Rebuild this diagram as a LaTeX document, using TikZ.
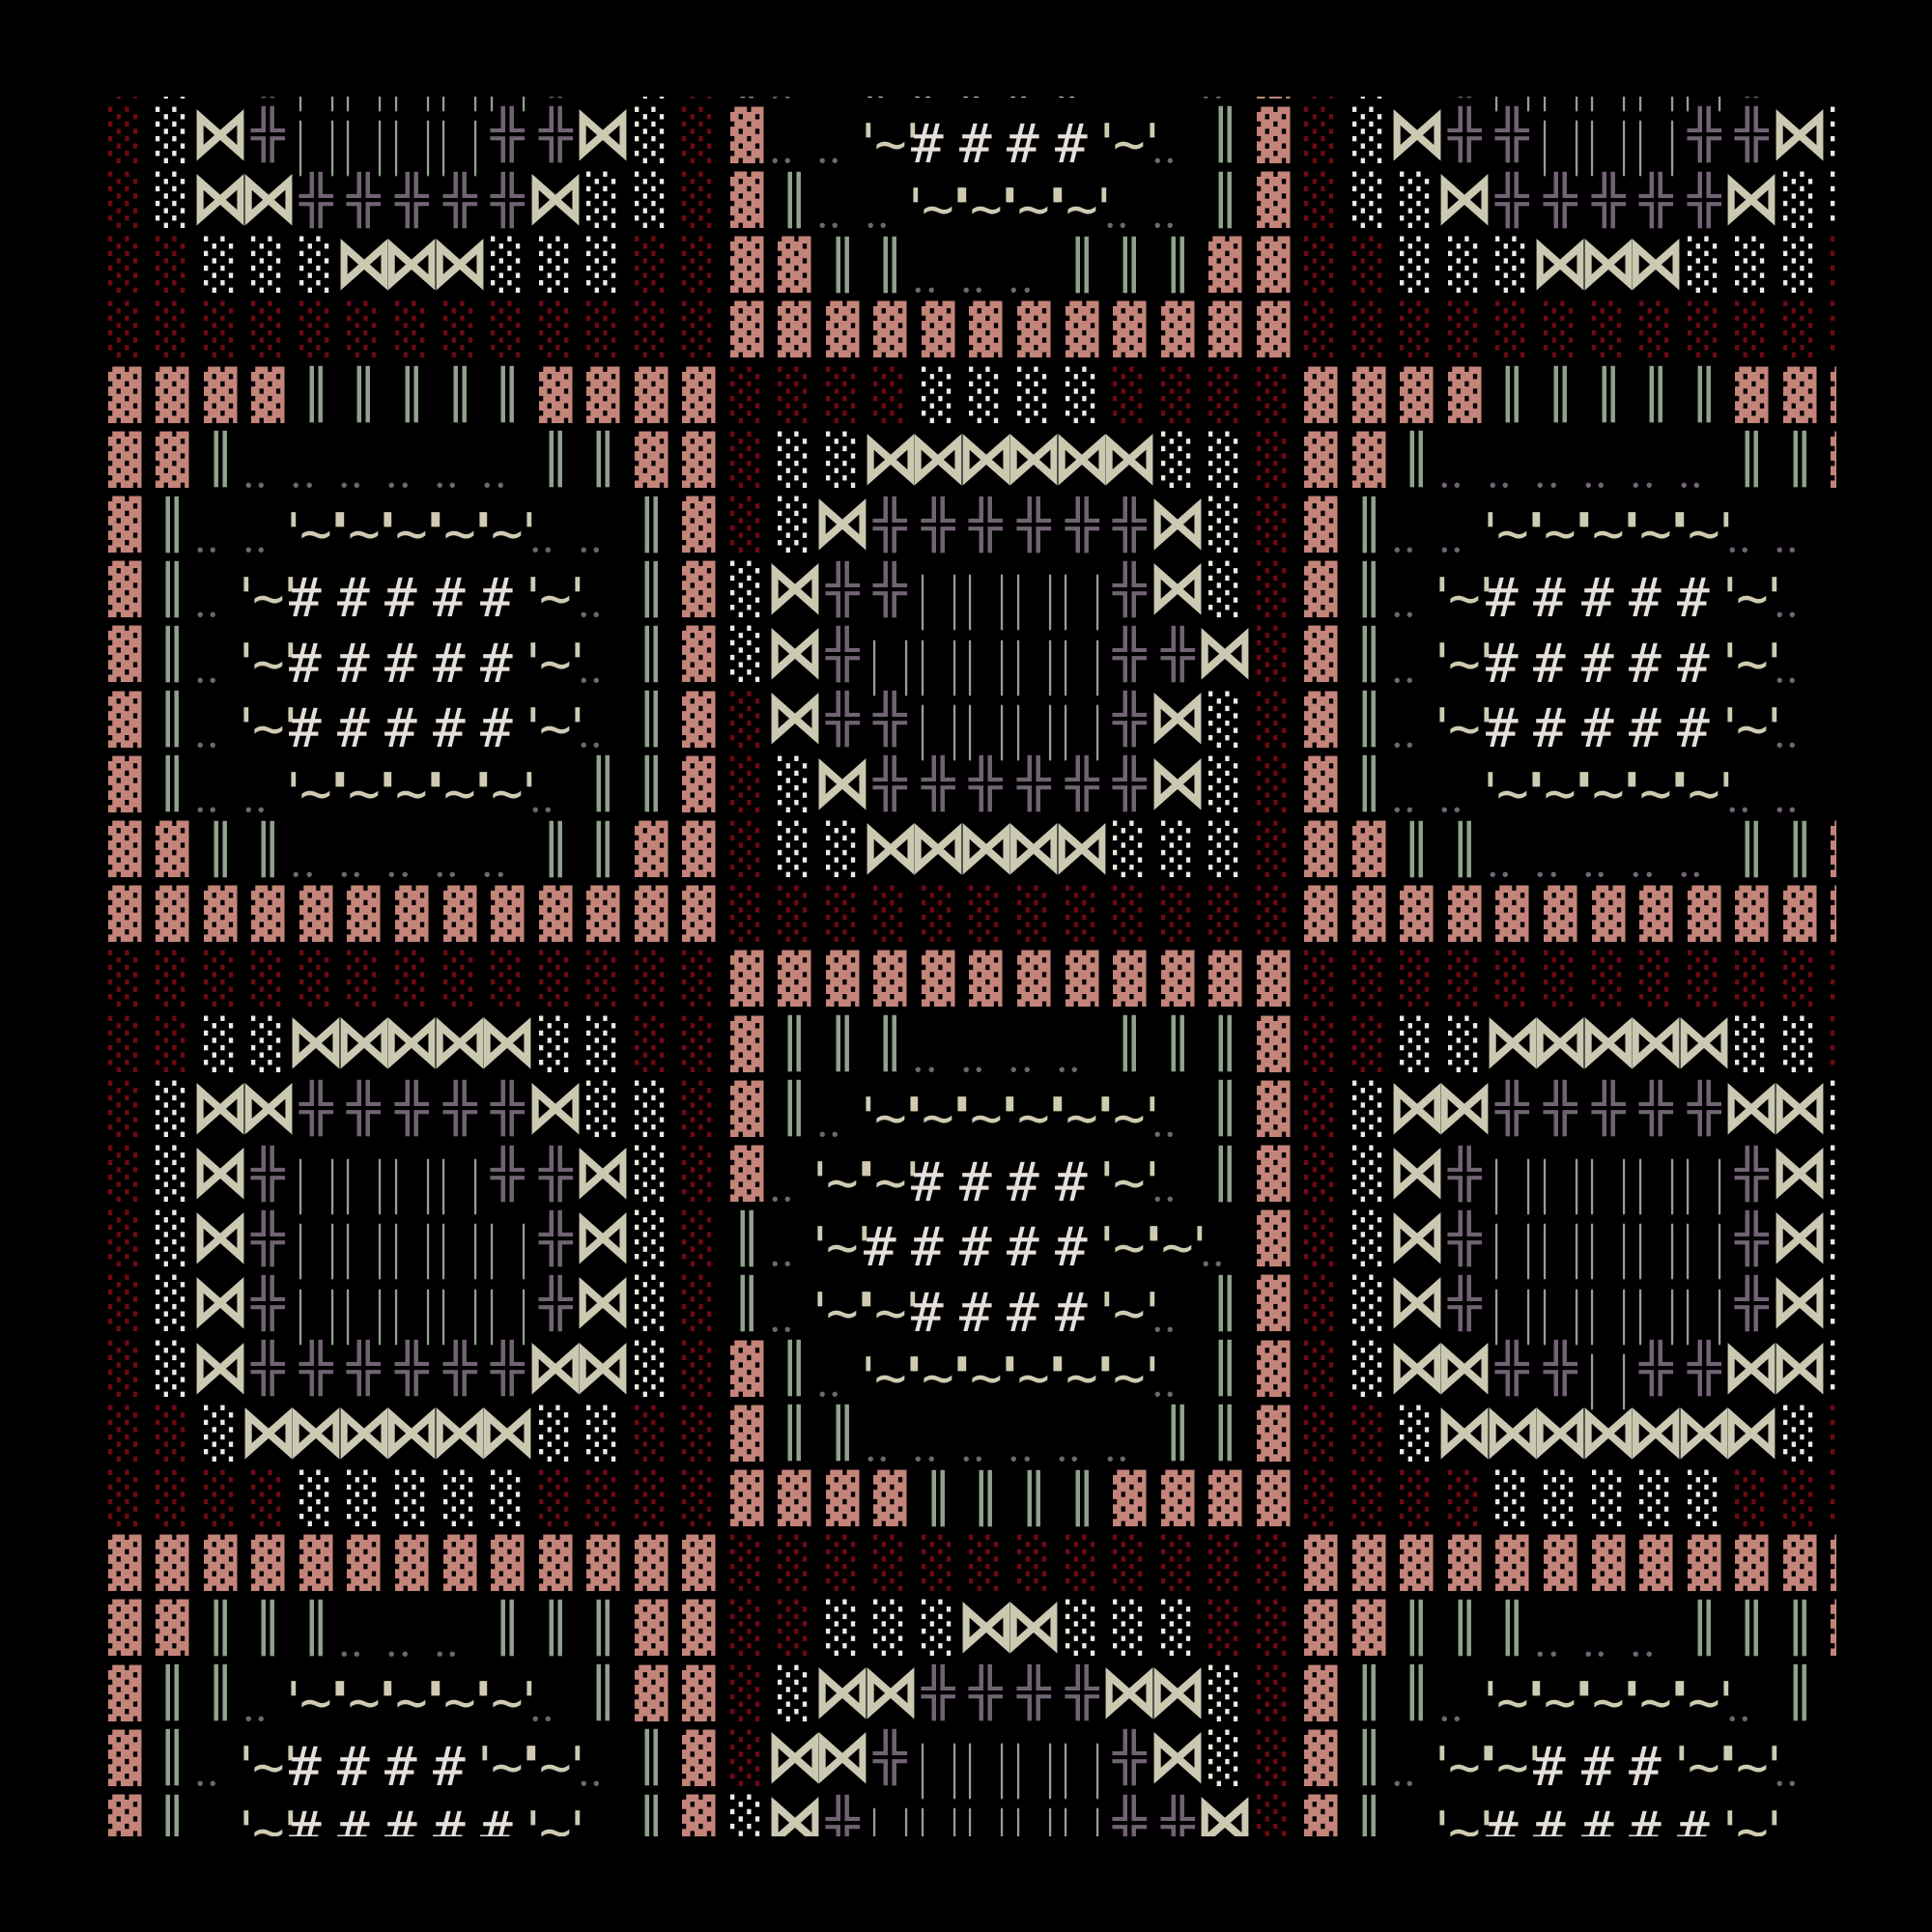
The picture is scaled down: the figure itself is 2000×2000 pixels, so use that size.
\documentclass[tikz,border=0pt]{standalone}
\usepackage{graphicx}
\font\blockfont="DejaVu Sans Mono" at 10pt
\font\linefont="DejaVu Sans Mono/B" at 10pt
\font\tiefont="DejaVu Sans/B" at 10pt
\font\markfont="DejaVu Sans Mono" at 56pt
\definecolor{shadepink}{HTML}{C4847A}
\definecolor{shadered}{HTML}{6E0A12}
\definecolor{shadecream}{HTML}{EEEAE0}
\definecolor{crossmauve}{HTML}{716373}
\definecolor{barsage}{HTML}{8FA38C}
\definecolor{tiecream}{HTML}{CBC9B2}
\definecolor{hashwhite}{HTML}{E4DFDA}
\definecolor{tildecream}{HTML}{CFCBB3}
\definecolor{dotmauve}{HTML}{736477}
\tikzset{
  glyph/.style={inner sep=0pt,outer sep=0pt},
  baseglyph/.style={glyph,anchor=base},
}
\newcommand{\cellpos}[2]{%
  \pgfmathsetmacro{\cx}{129.5+49.54*#1}%
  \pgfmathsetmacro{\cy}{72.8+67.2*#2}}
\newcommand{\blockglyph}[5]{%
  \cellpos{#1}{#2}%
  \node[glyph,text=#3] (g-#2-#1) at (\cx,\cy) {\resizebox*{34.5pt}{58.5pt}{#4#5}};}
\newcommand{\cellP}[2]{\blockglyph{#1}{#2}{shadepink}{\blockfont}{▓}}
\newcommand{\cellD}[2]{\blockglyph{#1}{#2}{shadered}{\blockfont}{░}}
\newcommand{\cellW}[2]{\blockglyph{#1}{#2}{shadecream}{\blockfont}{░}}
\newcommand{\cellX}[2]{\blockglyph{#1}{#2}{crossmauve}{\linefont}{╬}}
\newcommand{\cellG}[2]{\blockglyph{#1}{#2}{barsage}{\linefont}{║}}
\newcommand{\cellB}[2]{%
  \cellpos{#1}{#2}%
  \node[glyph,text=tiecream] (g-#2-#1) at (\cx,\cy) {\resizebox*{62pt}{53.5pt}{\tiefont ⋈}};}
\newcommand{\cellI}[2]{%
  \cellpos{#1}{#2}%
  \node[baseglyph,text=barsage,font=\fontsize{58pt}{58pt}\selectfont] (g-#2-#1) at (\cx,\cy+28.5) {|\kern16.9pt|};}
\newcommand{\cellO}[2]{%
  \cellpos{#1}{#2}%
  \node[baseglyph,text=dotmauve,font=\fontsize{66pt}{66pt}\selectfont] (g-#2-#1) at (\cx-14,\cy+29.5) {.\kern-3.3pt.};}
\newcommand{\cellS}[2]{%
  \cellpos{#1}{#2}%
  \node[baseglyph,text=tildecream,font=\markfont] (g-#2-#1) at (\cx,\cy+28.5) {\char"27\kern-10.7pt\char"7E\kern-10.7pt\char"27};}
\newcommand{\cellN}[2]{%
  \cellpos{#1}{#2}%
  \node[baseglyph,text=hashwhite,font=\markfont] (g-#2-#1) at (\cx-11,\cy+28.5) {\#};}
\newcommand{\glyphrow}[2]{%
  \foreach \g [count=\col from 0] in {#2} {\csname cell\g\endcsname{\col}{#1}}}
\begin{document}
\begin{tikzpicture}[x=1pt,y=-1pt]
\fill[black] (0,0) rectangle (2000,2000);
\begin{scope}
\clip (100,100) rectangle (1900,1900);
\glyphrow{0}{D,W,B,X,I,I,I,I,I,X,B,W,D,G,O,S,N,N,N,N,N,S,S,O,P,D,W,B,X,I,I,I,I,I,X,B,W}
\glyphrow{1}{D,W,B,X,I,I,I,I,X,X,B,W,D,P,O,O,S,N,N,N,N,S,O,G,P,D,W,B,X,X,I,I,I,X,X,B,W}
\glyphrow{2}{D,W,B,B,X,X,X,X,X,B,W,W,D,P,G,O,O,S,S,S,S,O,O,G,P,D,W,W,B,X,X,X,X,X,B,W,W}
\glyphrow{3}{D,D,W,W,W,B,B,B,W,W,W,D,D,P,P,G,G,O,O,O,G,G,G,P,P,D,D,W,W,W,B,B,B,W,W,W,D}
\glyphrow{4}{D,D,D,D,D,D,D,D,D,D,D,D,D,P,P,P,P,P,P,P,P,P,P,P,P,D,D,D,D,D,D,D,D,D,D,D,D}
\glyphrow{5}{P,P,P,P,G,G,G,G,G,P,P,P,P,D,D,D,D,W,W,W,W,D,D,D,D,P,P,P,P,G,G,G,G,G,P,P,P}
\glyphrow{6}{P,P,G,O,O,O,O,O,O,G,G,P,P,D,W,W,B,B,B,B,B,B,W,W,D,P,P,G,O,O,O,O,O,O,G,G,P}
\glyphrow{7}{P,G,O,O,S,S,S,S,S,O,O,G,P,D,W,B,X,X,X,X,X,X,B,W,D,P,G,O,O,S,S,S,S,S,O,O,G}
\glyphrow{8}{P,G,O,S,N,N,N,N,N,S,O,G,P,W,B,X,X,I,I,I,I,X,B,W,D,P,G,O,S,N,N,N,N,N,S,O,G}
\glyphrow{9}{P,G,O,S,N,N,N,N,N,S,O,G,P,W,B,X,I,I,I,I,I,X,X,B,D,P,G,O,S,N,N,N,N,N,S,O,G}
\glyphrow{10}{P,G,O,S,N,N,N,N,N,S,O,G,P,D,B,X,X,I,I,I,I,X,B,W,D,P,G,O,S,N,N,N,N,N,S,O,G}
\glyphrow{11}{P,G,O,O,S,S,S,S,S,O,G,G,P,D,W,B,X,X,X,X,X,X,B,W,D,P,G,O,O,S,S,S,S,S,O,O,G}
\glyphrow{12}{P,P,G,G,O,O,O,O,O,G,G,P,P,D,W,W,B,B,B,B,B,W,W,W,D,P,P,G,G,O,O,O,O,O,G,G,P}
\glyphrow{13}{P,P,P,P,P,P,P,P,P,P,P,P,P,D,D,D,D,D,D,D,D,D,D,D,D,P,P,P,P,P,P,P,P,P,P,P,P}
\glyphrow{14}{D,D,D,D,D,D,D,D,D,D,D,D,D,P,P,P,P,P,P,P,P,P,P,P,P,D,D,D,D,D,D,D,D,D,D,D,D}
\glyphrow{15}{D,D,W,W,B,B,B,B,B,W,W,D,D,P,G,G,G,O,O,O,O,G,G,G,P,D,D,W,W,B,B,B,B,B,W,W,D}
\glyphrow{16}{D,W,B,B,X,X,X,X,X,B,W,W,D,P,G,O,S,S,S,S,S,S,O,G,P,D,W,B,B,X,X,X,X,X,B,B,W}
\glyphrow{17}{D,W,B,X,I,I,I,I,X,X,B,W,D,P,O,S,S,N,N,N,N,S,O,G,P,D,W,B,X,I,I,I,I,I,X,B,W}
\glyphrow{18}{D,W,B,X,I,I,I,I,I,X,B,W,D,G,O,S,N,N,N,N,N,S,S,O,P,D,W,B,X,I,I,I,I,I,X,B,W}
\glyphrow{19}{D,W,B,X,I,I,I,I,I,X,B,W,D,G,O,S,S,N,N,N,N,S,O,G,P,D,W,B,X,I,I,I,I,I,X,B,W}
\glyphrow{20}{D,W,B,X,X,X,X,X,X,B,B,W,D,P,G,O,S,S,S,S,S,S,O,G,P,D,W,B,B,X,X,I,X,X,B,B,W}
\glyphrow{21}{D,D,W,B,B,B,B,B,B,W,W,D,D,P,G,G,O,O,O,O,O,O,G,G,P,D,D,W,B,B,B,B,B,B,B,W,D}
\glyphrow{22}{D,D,D,D,W,W,W,W,W,D,D,D,D,P,P,P,P,G,G,G,G,P,P,P,P,D,D,D,D,W,W,W,W,W,D,D,D}
\glyphrow{23}{P,P,P,P,P,P,P,P,P,P,P,P,P,D,D,D,D,D,D,D,D,D,D,D,D,P,P,P,P,P,P,P,P,P,P,P,P}
\glyphrow{24}{P,P,G,G,G,O,O,O,G,G,G,P,P,D,D,W,W,W,B,B,W,W,W,D,D,P,P,G,G,G,O,O,O,G,G,G,P}
\glyphrow{25}{P,G,G,O,S,S,S,S,S,O,G,P,P,D,W,B,B,X,X,X,X,B,B,W,D,P,G,G,O,S,S,S,S,S,O,G,G}
\glyphrow{26}{P,G,O,S,N,N,N,N,S,S,O,G,P,D,B,B,X,I,I,I,I,X,B,W,D,P,G,O,S,S,N,N,N,S,S,O,G}
\glyphrow{27}{P,G,O,S,N,N,N,N,N,S,O,G,P,W,B,X,I,I,I,I,I,X,X,B,D,P,G,O,S,N,N,N,N,N,S,O,G}
\end{scope}
\end{tikzpicture}
\end{document}
